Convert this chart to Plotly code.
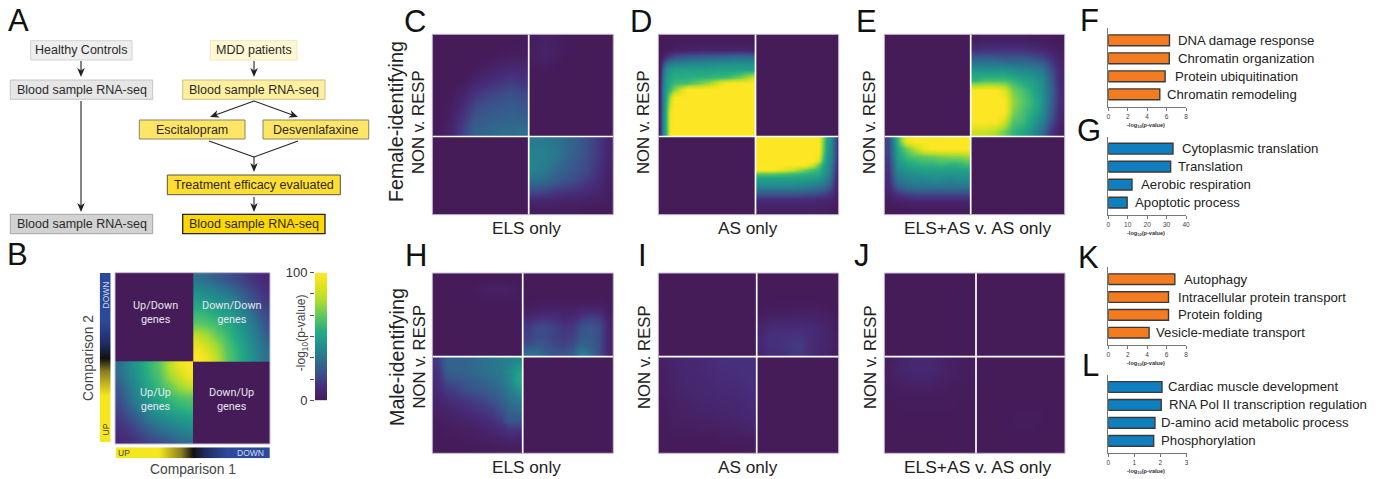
import math
import plotly.graph_objects as go

W, H = 1378, 479

# ---------- bar chart data ----------
F_TERMS = ["DNA damage response", "Chromatin organization", "Protein ubiquitination", "Chromatin remodeling"]
F_VALUES = [6.3, 6.28, 5.85, 5.3]
G_TERMS = ["Cytoplasmic translation", "Translation", "Aerobic respiration", "Apoptotic process"]
G_VALUES = [33.3, 32.1, 12.2, 9.7]
K_TERMS = ["Autophagy", "Intracellular protein transport", "Protein folding", "Vesicle-mediate transport"]
K_VALUES = [6.85, 6.2, 6.2, 4.2]
L_TERMS = ["Cardiac muscle development", "RNA Pol II transcription regulation", "D-amino acid metabolic process", "Phosphorylation"]
L_VALUES = [2.06, 2.03, 1.79, 1.74]

# ---------- heatmap data (rows top to bottom) ----------
B_TR = [[33,31,26,22,19,15,12,9],[42,40,36,33,27,21,16,12],[49,47,44,41,36,27,21,15],[58,56,52,48,43,36,27,19],
        [65,63,59,54,48,41,33,22],[80,75,66,59,52,44,36,26],[92,84,75,63,56,47,40,31],[100,92,80,65,58,49,42,33]]
B_BL = [[33,42,49,58,65,80,92,100],[31,40,47,56,63,75,84,92],[26,36,44,52,59,66,75,80],[22,33,41,48,54,59,63,65],
        [19,27,36,43,48,52,56,58],[15,21,27,36,41,44,47,49],[12,16,21,27,33,36,40,42],[9,12,15,19,22,26,31,33]]
C_TL = [[0,0,0,0,0,0,0,1],[0,0,0,0,0,1,2,2],[0,0,0,1,3,6,8,8],[0,0,1,5,9,12,14,12],
        [0,1,5,12,16,18,21,18],[0,2,9,18,22,23,25,23],[0,4,13,23,25,27,28,27],[1,6,17,27,29,31,31,32]]
C_TR = [[2,4,3,1,0,0,0,0],[3,6,3,1,0,0,0,0],[1,2,1,0,0,0,0,0],[0,0,0,0,0,0,0,0],
        [0,0,0,0,0,0,0,0],[0,0,0,0,0,0,0,0],[0,0,0,0,0,0,0,0],[0,0,0,0,0,0,0,0]]
C_BR = [[36,36,34,30,26,21,15,7],[38,38,36,30,26,21,15,7],[39,38,34,28,24,20,14,6],[38,36,30,26,22,19,12,5],
        [32,30,26,22,19,15,10,4],[21,19,15,14,12,10,7,3],[7,7,6,5,5,4,3,2],[2,2,2,2,2,1,1,1]]

D_TL_X = [0.01, 0.04, 0.08, 0.12, 0.16, 0.3, 0.5, 0.7, 0.85, 0.99]
D_TL_Y = [0.02, 0.15, 0.22, 0.28, 0.34, 0.42, 0.48, 0.54, 0.62, 0.75, 0.99]
D_TL = [[0,0,0,0,0,0,0,0,0,0],
        [0,0,1,2,3,4,5,5,5,4],
        [0,4,10,16,20,24,26,28,30,28],
        [0,15,32,36,38,40,42,44,44,44],
        [0,25,44,48,50,50,50,50,50,50],
        [0,30,48,52,55,56,58,60,70,85],
        [0,32,50,56,60,62,75,100,100,100],
        [0,34,52,60,72,100,100,100,100,100],
        [0,35,55,80,100,100,100,100,100,100],
        [0,35,60,95,100,100,100,100,100,100],
        [0,35,60,100,100,100,100,100,100,100]]
D_BR_X = [0.01, 0.2, 0.4, 0.6, 0.7, 0.76, 0.8, 0.85, 0.9, 0.95, 0.99]
D_BR_Y = [0.01, 0.2, 0.3, 0.36, 0.42, 0.47, 0.53, 0.62, 0.72, 0.8, 0.99]
D_BR = [[100,100,100,100,100,100,75,52,44,28,10],
        [100,100,100,100,100,100,70,50,42,26,10],
        [100,100,100,100,100,90,62,48,40,24,8],
        [100,100,100,100,85,68,55,46,38,22,8],
        [100,100,90,70,62,58,50,44,36,20,6],
        [66,66,62,58,56,54,48,42,34,18,6],
        [50,50,50,50,48,46,44,38,30,16,5],
        [42,42,42,40,38,36,34,30,24,12,4],
        [26,26,26,24,24,22,20,18,14,8,3],
        [10,10,10,10,10,8,8,7,6,4,1],
        [1,1,1,1,1,1,1,1,0,0,0]]
E_TR = [[2,3,3,3,3,3,2,2,1,0],[10,12,12,12,12,12,10,8,5,2],[30,30,30,28,28,28,26,22,14,5],[46,46,46,46,44,42,40,36,22,8],
        [58,62,62,62,58,52,50,42,26,8],[100,100,100,92,70,62,54,44,28,10],[100,100,100,100,75,65,58,46,28,10],
        [100,100,100,100,72,62,55,44,26,8],[100,100,100,88,64,60,50,40,22,6],[85,85,80,70,58,52,44,32,14,3]]
E_BL = [[18,58,95,100,100,100,100,100,100,100],[18,52,68,80,95,100,100,100,100,100],[16,50,60,64,66,68,70,72,72,75],
        [14,45,52,55,58,58,60,58,58,62],[12,40,44,46,48,48,48,48,48,48],[10,34,38,40,40,42,42,40,42,42],
        [8,24,30,32,32,32,32,32,32,32],[4,10,14,16,16,16,16,16,16,16],[1,3,4,5,5,5,5,5,5,5],[0,0,1,1,1,1,1,1,1,1]]
H_TL = [[0,0,0,0,0,0,0,0],[0,0,0,1,3,4,4,2],[0,0,0,0,1,1,1,1],[0,0,0,0,0,0,0,0],
        [0,0,0,0,0,0,0,0],[0,0,0,0,0,0,0,0],[0,0,0,0,0,0,0,0],[0,0,0,0,0,0,0,0]]
H_TR = [[0,0,0,0,0,0,0,0,0,0],[0,0,0,0,0,0,0,0,0,0],[0,0,0,0,0,0,0,0,0,0],[1,1,2,2,2,2,2,2,2,1],
        [3,5,6,6,5,5,8,9,8,2],[9,12,13,12,8,10,16,18,16,5],[15,20,20,17,13,15,22,24,20,6],
        [17,20,20,17,15,17,24,24,20,6],[20,24,22,19,17,20,28,26,20,6],[32,32,26,22,22,26,38,30,20,6]]
H_BL = [[14,28,28,28,30,32,34,36,38,42],[12,26,28,28,30,32,34,36,42,50],[10,20,22,24,26,28,30,34,40,52],
        [8,14,16,20,22,24,26,30,36,44],[6,10,12,14,16,18,22,26,32,36],[4,6,8,10,12,14,16,22,28,30],
        [2,4,5,6,8,10,12,16,24,24],[1,2,3,4,4,6,8,10,14,14],[0,1,1,2,2,3,4,5,7,6],[0,0,0,0,1,1,1,2,2,2]]
I_TR = [[0,0,0,0,0,0,0,0,0,0],[0,0,0,0,0,0,0,0,0,0],[0,0,0,0,0,0,0,0,0,0],[0,1,1,1,1,1,1,1,0,0],
        [1,2,2,2,3,3,3,3,2,1],[3,5,6,6,6,6,6,5,4,2],[6,9,10,10,10,10,9,8,6,2],[8,12,12,12,13,13,10,8,6,3],
        [8,12,12,13,15,15,10,8,6,3],[6,10,10,12,14,14,10,7,5,2]]
I_BL = [[4,6,8,8,9,10,12,12,12,12],[3,6,7,8,9,10,11,11,12,12],[3,5,7,7,8,9,10,10,11,12],[3,5,6,7,8,8,9,9,10,11],
        [2,4,5,6,7,7,8,8,9,10],[2,3,4,5,6,6,7,7,8,9],[1,3,3,4,4,5,5,6,7,8],[1,2,2,2,3,3,4,4,5,6],
        [0,1,1,1,1,1,2,2,2,2],[0,0,0,0,0,0,0,0,1,1]]
J_BL = [[2,5,7,8,8,7,4,3,2,2],[3,6,7,8,8,8,5,3,2,2],[2,4,5,5,5,4,3,2,2,1],[1,2,3,3,3,2,2,1,1,1],
        [1,1,1,1,1,1,1,1,1,1],[0,1,1,1,1,1,1,1,0,0],[0,0,0,0,0,0,0,0,0,0],[0,0,0,0,0,0,0,0,0,0],
        [0,0,0,0,0,0,0,0,0,0],[0,0,0,0,0,0,0,0,0,0]]
J_BR = [[0,0,0,0,0,0,0,0,0,0],[0,0,0,0,0,0,0,0,0,0],[0,0,0,0,0,0,0,0,0,0],[0,0,0,0,0,0,0,0,0,0],
        [0,0,0,0,0,0,0,0,0,0],[0,0,0,0,1,1,1,1,0,0],[0,0,0,1,1,1,1,1,0,0],[0,0,0,0,1,1,1,0,0,0],
        [0,0,0,0,0,0,0,0,0,0],[0,0,0,0,0,0,0,0,0,0]]

CB_LEVELS = [0, 10, 20, 30, 40, 50, 60, 70, 80, 90, 100]
DIR_LEVELS = [-1, -0.8, -0.6, -0.44, -0.3, -0.16, 0, 0.16, 0.3, 0.44, 0.6, 0.8, 1]
CB_TICKS = [0, 100]
CB_MINOR = [16.67, 33.33, 50, 66.67, 83.33]

# ---------- styling ----------
BG = "#451b58"
VIRIDIS = [[0, BG], [0.11, "#472d7b"], [0.22, "#3b528b"], [0.33, "#2c728e"], [0.44, "#21908d"],
           [0.55, "#27ad81"], [0.66, "#5cc863"], [0.78, "#aadc32"], [0.9, "#e0e31f"], [1, "#fde725"]]
DIRSCALE = [[0, "#f5e61e"], [0.28, "#f5e61e"], [0.42, "#8a7f20"], [0.5, "#111111"], [0.58, "#1f2a60"],
            [0.72, "#2b4a9c"], [1, "#2b4a9c"]]
ORANGE, BLUE = "#f47b20", "#0f7fc0"
FONT = "Liberation Sans"
TXT = "#222222"


def px(x):
    return x / W


def py(y):
    return 1 - y / H


fig = go.Figure()
layout = dict(width=W, height=H, margin=dict(l=0, r=0, t=0, b=0, pad=0, autoexpand=False), paper_bgcolor="white",
              plot_bgcolor="rgba(0,0,0,0)", showlegend=False, font=dict(family=FONT, color=TXT))
shapes, annos = [], []
axis_count = [0]


def new_axes(x0, x1, y0, y1, xcfg, ycfg):
    axis_count[0] += 1
    i = axis_count[0]
    s = "" if i == 1 else str(i)
    layout["xaxis" + s] = dict(domain=[px(x0), px(x1)], anchor="y" + s, fixedrange=True, showgrid=False,
                               zeroline=False, automargin=False, **xcfg)
    layout["yaxis" + s] = dict(domain=[py(y1), py(y0)], anchor="x" + s, fixedrange=True, showgrid=False,
                               zeroline=False, automargin=False, **ycfg)
    return "x" + s, "y" + s


def text(x, y, s, size, color=TXT, angle=0, xanchor="center", family=FONT):
    annos.append(dict(xref="paper", yref="paper", x=px(x), y=py(y), text=s, showarrow=False, borderpad=0,
                      font=dict(size=size, color=color, family=family), textangle=angle,
                      xanchor=xanchor, yanchor="middle", align="center"))


def quad(xa, ya, grid, xlo, xhi, ylo, yhi, xf=None, yf=None):
    nr, nc = len(grid), len(grid[0])
    if xf is None:
        xf = [(j + 0.5) / nc for j in range(nc)]
        yf = [(k + 0.5) / nr for k in range(nr)]
    else:
        eps = 0.002
        xf = [0, eps] + list(xf) + [1 - eps, 1]
        yf = [0, eps] + list(yf) + [1 - eps, 1]
        grid = [[r[0], r[0]] + list(r) + [r[-1], r[-1]] for r in grid]
        grid = [grid[0], grid[0]] + grid + [grid[-1], grid[-1]]
    fig.add_trace(go.Heatmap(z=grid, x=[xlo + (xhi - xlo) * f for f in xf], y=[ylo + (yhi - ylo) * f for f in yf],
                             zmin=0, zmax=100, colorscale=VIRIDIS, zsmooth="best", showscale=False,
                             hoverinfo="skip", xaxis=xa, yaxis=ya))


def panel(x0, x1, y0, y1, sx, sy, tl=None, tr=None, bl=None, br=None, gap=True, tl_f=(None, None), br_f=(None, None)):
    w, h = x1 - x0, y1 - y0
    xa, ya = new_axes(x0, x1, y0, y1, dict(visible=False, range=[0, w]), dict(visible=False, range=[h, 0]))
    shapes.append(dict(type="rect", xref="paper", yref="paper", x0=px(x0), x1=px(x1), y0=py(y0), y1=py(y1),
                       fillcolor=BG, line=dict(width=0), layer="below"))
    cx, cy = sx - x0, sy - y0
    if tl: quad(xa, ya, tl, 0, cx, 0, cy, *tl_f)
    if tr: quad(xa, ya, tr, cx, w, 0, cy)
    if bl: quad(xa, ya, bl, 0, cx, cy, h)
    if br: quad(xa, ya, br, cx, w, cy, h, *br_f)
    if gap:
        shapes.append(dict(type="line", xref="paper", yref="paper", x0=px(sx), x1=px(sx), y0=py(y0), y1=py(y1),
                           line=dict(color="white", width=1.7), layer="above"))
        shapes.append(dict(type="line", xref="paper", yref="paper", x0=px(x0), x1=px(x1), y0=py(sy), y1=py(sy),
                           line=dict(color="white", width=1.7), layer="above"))
    shapes.append(dict(type="rect", xref="paper", yref="paper", x0=px(x0), x1=px(x1), y0=py(y0), y1=py(y1),
                       fillcolor="rgba(0,0,0,0)", line=dict(color="#c8bcd4", width=1), layer="above"))


def bars(x0, x1, y0, y1, xmax, ticks, terms, values, color, label_x, title_y):
    axis_style = dict(showline=True, linecolor="#777777", linewidth=1.3)
    xa, ya = new_axes(x0, x1, y0, y1,
                      dict(range=[0, xmax], tickmode="array", tickvals=ticks, ticks="outside", ticklen=3,
                           tickwidth=1, tickcolor="#777777", tickfont=dict(size=6.5, color="#444444"), **axis_style),
                      dict(range=[3.69, -0.667], tickmode="array", tickvals=[], ticks="", **axis_style))
    fig.add_trace(go.Bar(x=values, y=[0, 1, 2, 3], orientation="h", width=0.6, marker=dict(color=color,
                         line=dict(color="#3a3a3a", width=1.4)), xaxis=xa, yaxis=ya, hoverinfo="skip"))
    spacing = (y1 - y0) / 4.357
    for k, t in enumerate(terms):
        text(label_x[k] - 1, y0 + spacing * (0.667 + k), t, 13.2, xanchor="left")
    text((x0 + x1) / 2 - 1.5, title_y, "<b>-log<sub>10</sub>(p-value)</b>", 5.6, color="#333333")


# ---------- panel A ----------
def box(x0, x1, y0, y1, fill, edge, s, lw=1):
    shapes.append(dict(type="rect", xref="paper", yref="paper", x0=px(x0), x1=px(x1), y0=py(y0), y1=py(y1),
                       fillcolor=fill, line=dict(color=edge, width=lw), layer="below"))
    text((x0 + x1) / 2, (y0 + y1) / 2, s, 12.5, color="#2a2a2a")


def seg(x0, y0, x1, y1):
    shapes.append(dict(type="line", xref="paper", yref="paper", x0=px(x0), x1=px(x1), y0=py(y0), y1=py(y1),
                       line=dict(color="#222222", width=1.1)))


def arrow(x0, y0, x1, y1, head=9.0, half=3.8):
    ang = math.atan2(y1 - y0, x1 - x0)
    ux, uy = math.cos(ang), math.sin(ang)
    bx, by = x1 - ux * head, y1 - uy * head
    nx, ny = x1 - ux * head * 0.72, y1 - uy * head * 0.72
    seg(x0, y0, nx, ny)
    pts = [(x1, y1), (bx - uy * half, by + ux * half), (nx, ny), (bx + uy * half, by - ux * half)]
    path = "M " + " L ".join(f"{px(a):.5f},{py(b):.5f}" for a, b in pts) + " Z"
    shapes.append(dict(type="path", xref="paper", yref="paper", path=path, fillcolor="#222222", line=dict(width=0)))


box(30.7, 132, 40.7, 60, "#eeeeee", "#d2d2d2", "Healthy Controls")
box(10.3, 152.7, 80, 99.3, "#e6e6e6", "#c4c4c4", "Blood sample RNA-seq")
box(10.3, 152.7, 214.3, 233.7, "#d2d2d2", "#a6a6a6", "Blood sample RNA-seq")
box(210.3, 297, 40.7, 60, "#fff8d2", "#eee6bc", "MDD patients")
box(182.7, 325, 80, 99.3, "#ffef9f", "#c9c08a", "Blood sample RNA-seq")
box(139.3, 245, 120, 139, "#ffe566", "#8a8466", "Escitalopram")
box(263, 368.7, 120, 139, "#ffe566", "#8a8466", "Desvenlafaxine")
box(167.3, 340.3, 175, 194.7, "#ffdd33", "#555544", "Treatment efficacy evaluated")
box(182.7, 325, 214.3, 233.7, "#ffd800", "#222222", "Blood sample RNA-seq", 1.3)
arrow(81, 61, 81, 77)
arrow(81, 101, 81, 212)
arrow(254, 61, 254, 77)
arrow(254, 101, 210, 117)
arrow(254, 101, 298, 117)
seg(209, 141, 254, 157)
seg(298, 141, 254, 157)
arrow(254, 157, 254, 172)
arrow(254, 197, 254, 212)

# ---------- panel B ----------
panel(115, 270, 272.7, 444, 193.3, 361.3, tr=B_TR, bl=B_BL, gap=False)
xa, ya = new_axes(115.7, 270, 447.3, 458.3, dict(visible=False, range=[-1, 1]), dict(visible=False, range=[0, 1]))
fig.add_trace(go.Heatmap(z=[DIR_LEVELS], x=DIR_LEVELS, y=[0.5], zmin=-1, zmax=1, colorscale=DIRSCALE,
                         zsmooth="best", showscale=False, hoverinfo="skip", xaxis=xa, yaxis=ya))
xa, ya = new_axes(99.7, 110.7, 273, 442.3, dict(visible=False, range=[0, 1]), dict(visible=False, range=[-1, 1]))
fig.add_trace(go.Heatmap(z=[[v] for v in DIR_LEVELS], x=[0.5], y=DIR_LEVELS, zmin=-1, zmax=1, colorscale=DIRSCALE,
                         zsmooth="best", showscale=False, hoverinfo="skip", xaxis=xa, yaxis=ya))
xa, ya = new_axes(315, 327, 272.7, 400.3, dict(visible=False, range=[0, 1]),
                  dict(range=[0, 100], tickmode="array", tickvals=CB_TICKS, ticks="outside",
                       ticklen=4, tickwidth=1, tickcolor="#555555", tickfont=dict(size=13, color="#333333"),
                       minor=dict(tickmode="array", tickvals=CB_MINOR, ticks="outside", ticklen=4, tickwidth=1,
                                  tickcolor="#555555")))
fig.add_trace(go.Heatmap(z=[[v] for v in CB_LEVELS], x=[0.5], y=CB_LEVELS, zmin=0, zmax=100, colorscale=VIRIDIS,
                         zsmooth="best", showscale=False, hoverinfo="skip", xaxis=xa, yaxis=ya))
WHITE = "#e6e6ee"
text(155, 312, "Up/Down<br>genes", 10.9, WHITE, family="Roboto")
text(231.7, 312, "Down/Down<br>genes", 10.9, WHITE, family="Roboto")
text(155, 399, "Up/Up<br>genes", 10.9, WHITE, family="Roboto")
text(231.7, 399, "Down/Up<br>genes", 10.9, WHITE, family="Roboto")
text(124, 452.7, "UP", 8.5, "#444444")
text(250, 452.7, "DOWN", 8.5, "#d5dcf0")
text(105, 294.5, "DOWN", 8.5, "#d5dcf0", angle=-90)
text(105, 429.5, "UP", 8.5, "#444444", angle=-90)
text(192.7, 469, "Comparison 1", 13.8, "#444444")
text(88, 358, "Comparison 2", 13.8, "#444444", angle=-90)
text(301.7, 332.5, "-log<sub>10</sub>(p-value)", 12, "#444444", angle=-90)

# ---------- viridis panels ----------
panel(432.3, 613.3, 34.3, 214.7, 528.7, 136.5, tl=C_TL, tr=C_TR, br=C_BR)
panel(658.3, 838.7, 34.3, 214.7, 755.5, 136.5, tl=D_TL, br=D_BR, tl_f=(D_TL_X, D_TL_Y), br_f=(D_BR_X, D_BR_Y))
panel(884.3, 1064.7, 34.3, 214.7, 970.7, 136.5, tr=E_TR, bl=E_BL)
panel(432.3, 613.3, 273, 453.3, 522.7, 356.7, tl=H_TL, tr=H_TR, bl=H_BL)
panel(658.3, 838.7, 273, 453.3, 756.7, 356.7, tr=I_TR, bl=I_BL)
panel(884.3, 1065, 273, 453.3, 976, 356.7, bl=J_BL, br=J_BR)

for x, y in [(419, 122), (644, 122), (870, 122), (418.5, 357), (644, 357), (870, 357)]:
    text(x, y, "NON v. RESP", 16.7, angle=-90)
text(396, 122, "Female-identifying", 19.7, angle=-90)
text(397, 357, "Male-identifying", 19.7, angle=-90)
for y in (228, 467):
    text(526.5, y, "ELS only", 17.2)
    text(748, y, "AS only", 17.2)
    text(977, y, "ELS+AS v. AS only", 17.4)

# ---------- panel letters ----------
for s, x, y in [("A", 7, 21), ("B", 6, 255), ("C", 403, 22), ("D", 629, 22), ("E", 855, 22), ("F", 1079, 21),
                ("G", 1076, 130), ("H", 404, 256), ("I", 637, 256), ("J", 853, 256), ("K", 1077, 257),
                ("L", 1081, 365)]:
    text(x, y, s, 31, "#111111", xanchor="left")

# ---------- GO bars ----------
bars(1108.3, 1186, 28.3, 106.7, 8, [0, 2, 4, 6, 8], F_TERMS, F_VALUES, ORANGE, [1178, 1178, 1175, 1167.3], 125)
bars(1108.3, 1186, 136.7, 215, 40, [0, 10, 20, 30, 40], G_TERMS, G_VALUES, BLUE, [1181.7, 1178.3, 1141.3, 1134.7], 233)
bars(1108.3, 1186, 267.3, 345, 8, [0, 2, 4, 6, 8], K_TERMS, K_VALUES, ORANGE, [1184.3, 1177.7, 1177.7, 1156], 363)
bars(1108.3, 1186.5, 375, 453.3, 3, [0, 1, 2, 3], L_TERMS, L_VALUES, BLUE, [1168, 1168.7, 1161.3, 1161.3], 471)

layout["shapes"] = shapes
layout["annotations"] = annos
fig.update_layout(**layout)
fig.write_html("out.html", config=dict(displayModeBar=False),
               post_script="document.body.style.margin='0';document.body.style.overflow='hidden';")
